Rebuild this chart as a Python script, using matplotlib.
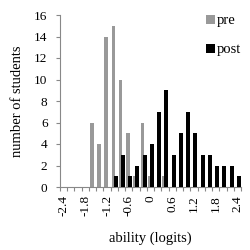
import numpy as np
import matplotlib
matplotlib.use('Agg')
import matplotlib.pyplot as plt

# ability bins (logits), step 0.2
bins = [round(-2.4 + 0.2 * i, 1) for i in range(25)]
pre = [0, 0, 0, 0, 6, 4, 14, 15, 10, 5, 1, 6, 1, 0, 1, 0, 0, 0, 0, 0, 0, 0, 0, 0, 0]
post = [0, 0, 0, 0, 0, 0, 0, 1, 3, 1, 2, 3, 4, 7, 9, 3, 5, 7, 5, 3, 3, 2, 2, 2, 1]
tick_labels = ['-2.4', '-1.8', '-1.2', '-0.6', '0', '0.6', '1.2', '1.8', '2.4']

plt.rcParams['font.family'] = ['Liberation Serif', 'DejaVu Serif']

fig = plt.figure(figsize=(2.5, 2.5), dpi=100)
ax = fig.add_axes([0.24, 0.252, 0.724, 0.688])

x = np.arange(len(bins))
ax.bar(x - 0.12, pre, width=0.5, color='#999999', label='pre', zorder=2)
ax.bar(x + 0.2, post, width=0.55, color='black', label='post', zorder=3)

ax.set_xlim(-0.5, len(bins) - 0.5)
ax.set_ylim(0, 16)
ax.set_yticks(range(0, 17, 2))
ax.tick_params(axis='y', labelsize=9.5, length=3, color='#888888', pad=6)

# category boundaries as ticks, labels every third bin
ax.set_xticks(np.arange(-0.5, len(bins), 1.0))
ax.set_xticklabels([])
ax.set_xticks(x[::3], minor=True)
ax.set_xticklabels(tick_labels, minor=True, rotation=90, fontsize=9.5)
ax.tick_params(axis='x', which='major', length=3, color='#888888')
ax.tick_params(axis='x', which='minor', length=0, pad=6)

for s in ['top', 'right']:
    ax.spines[s].set_visible(False)
for s in ['left', 'bottom']:
    ax.spines[s].set_color('#888888')

ax.set_xlabel('ability (logits)', fontsize=10.5, labelpad=11)
ax.set_ylabel('number of students', fontsize=10.5, labelpad=7)

leg = ax.legend(loc='upper right', bbox_to_anchor=(1.07, 1.08), frameon=False,
                fontsize=10.5, handlelength=0.6, handleheight=0.6,
                handletextpad=0.1, labelspacing=1.1)

fig.savefig('out.png', dpi=100)
